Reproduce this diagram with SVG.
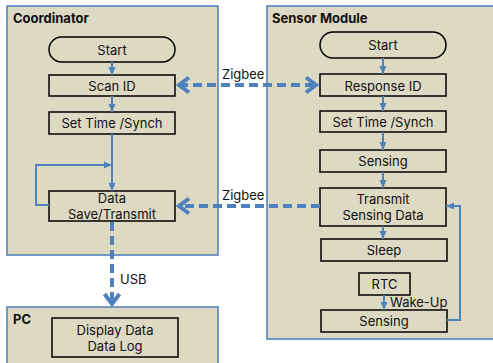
<svg xmlns="http://www.w3.org/2000/svg" width="493" height="363" viewBox="0 0 493 363">
<defs>
<style>
.panel{fill:#ddd9c3;stroke:#4a7ebb;stroke-width:1.5}
.box{fill:#ddd9c3;stroke:#000;stroke-width:1.5}
.t{font-family:Inter,"Noto Sans",sans-serif;font-size:13px;fill:#111;text-anchor:middle;dominant-baseline:central}
.title{font-family:Inter,"Noto Sans",sans-serif;font-size:13px;font-weight:bold;fill:#111}
.lbl{font-family:Inter,"Noto Sans",sans-serif;font-size:13px;fill:#111;dominant-baseline:central}
.flow{fill:none;stroke:#4f81bd;stroke-width:2;marker-end:url(#tri)}
.dash{fill:none;stroke:#4f81bd;stroke-width:4;stroke-dasharray:9 5}
</style>
<marker id="tri" markerUnits="userSpaceOnUse" viewBox="0 0 8 8" refX="8" refY="4" markerWidth="8" markerHeight="8" orient="auto">
<path d="M0,0.5 L8,4 L0,7.5 Z" fill="#4f81bd"/>
</marker>
<marker id="chev" markerUnits="userSpaceOnUse" viewBox="-14 -10 18 20" refX="0" refY="0" markerWidth="18" markerHeight="20" orient="auto-start-reverse">
<path d="M-10,-7.5 L0,0 L-10,7.5" fill="none" stroke="#4f81bd" stroke-width="4"/>
</marker>
</defs>
<rect width="493" height="363" fill="#fff"/>

<g id="coordinator-panel">
<rect class="panel" x="7" y="6" width="211" height="249"/>
<text class="title" x="13" y="23">Coordinator</text>
</g>
<g id="sensor-panel">
<rect class="panel" x="267" y="6" width="232" height="333"/>
<text class="title" x="272" y="23">Sensor Module</text>
</g>
<g id="pc-panel">
<rect class="panel" x="7" y="307" width="211" height="70"/>
<text class="title" x="13" y="324">PC</text>
</g>

<g id="c-start">
<rect class="box" x="49" y="37" width="126" height="25" rx="12.5"/>
<text class="t" x="112" y="50">Start</text>
</g>
<g id="c-scan">
<rect class="box" x="49" y="75" width="126" height="21"/>
<text class="t" x="112" y="86">Scan ID</text>
</g>
<g id="c-settime">
<rect class="box" x="49" y="112" width="126" height="22"/>
<text class="t" x="112" y="123">Set Time /Synch</text>
</g>
<g id="c-data">
<rect class="box" x="49" y="191" width="126" height="30"/>
<text class="t" x="112" y="198">Data</text>
<text class="t" x="112" y="214">Save/Transmit</text>
</g>

<g id="s-start">
<rect class="box" x="320" y="32" width="126" height="26" rx="13"/>
<text class="t" x="383" y="45">Start</text>
</g>
<g id="s-response">
<rect class="box" x="320" y="74" width="126" height="22"/>
<text class="t" x="383" y="86">Response ID</text>
</g>
<g id="s-settime">
<rect class="box" x="320" y="111" width="126" height="21"/>
<text class="t" x="383" y="122">Set Time /Synch</text>
</g>
<g id="s-sensing">
<rect class="box" x="320" y="150" width="126" height="22"/>
<text class="t" x="383" y="161">Sensing</text>
</g>
<g id="s-transmit">
<rect class="box" x="320" y="188" width="126" height="38"/>
<text class="t" x="383" y="199">Transmit</text>
<text class="t" x="383" y="215">Sensing Data</text>
</g>
<g id="s-sleep">
<rect class="box" x="321" y="239" width="126" height="22"/>
<text class="t" x="384" y="250">Sleep</text>
</g>
<g id="s-rtc">
<rect class="box" x="359" y="273" width="51" height="22"/>
<text class="t" x="384.5" y="284">RTC</text>
</g>
<g id="s-sensing2">
<rect class="box" x="321" y="310" width="126" height="22"/>
<text class="t" x="384" y="321">Sensing</text>
</g>

<g id="pc-display">
<rect class="box" x="52" y="318" width="126" height="39"/>
<text class="t" x="115" y="330">Display Data</text>
<text class="t" x="115" y="346">Data Log</text>
</g>

<g id="connectors">
<path class="flow" d="M112,62 V75"/>
<path class="flow" d="M112,96 V112"/>
<path class="flow" d="M112,134 V191"/>
<path class="flow" d="M49,205 H36 V165 H112"/>
<path class="flow" d="M383,58 V74"/>
<path class="flow" d="M383,96 V111"/>
<path class="flow" d="M383,132 V150"/>
<path class="flow" d="M383,172 V188"/>
<path class="flow" d="M383,226 V239"/>
<path class="flow" d="M384,295 V310"/>
<path class="flow" d="M447,320 H460 V206 H446"/>
<path class="dash" d="M179,85 H316" marker-start="url(#chev)" marker-end="url(#chev)"/>
<path class="dash" d="M320,206 H179" marker-end="url(#chev)"/>
<path class="dash" d="M112,222 V304" marker-end="url(#chev)"/>
<text class="lbl" x="222" y="74">Zigbee</text>
<text class="lbl" x="222" y="195">Zigbee</text>
<text class="lbl" x="120" y="279">USB</text>
<text class="lbl" x="390" y="302">Wake-Up</text>
</g>
</svg>
